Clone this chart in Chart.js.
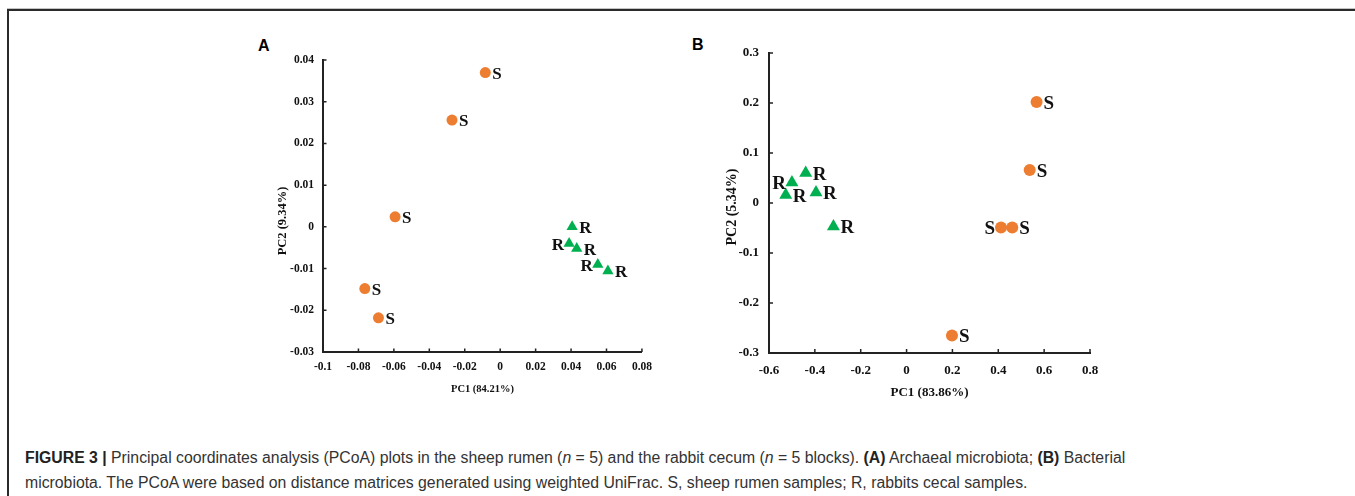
<!DOCTYPE html>
<html>
<head>
<meta charset="utf-8">
<script src="https://cdn.jsdelivr.net/npm/chart.js@4.4.0/dist/chart.umd.min.js"></script>
<style>
html,body{margin:0;padding:0;background:#fff;}
body{width:1355px;height:496px;overflow:hidden;position:relative;}
.fTopLight{position:absolute;left:7px;top:8px;width:1348px;height:1px;background:#c4c4c4;}
.fTop{position:absolute;left:7px;top:9px;width:1348px;height:1.5px;background:#2a2a2a;}
.fLeft{position:absolute;left:7px;top:9px;width:1.5px;height:487px;background:#2a2a2a;}
.box{position:absolute;}
.panel{position:absolute;font-family:"Liberation Sans",Arial,sans-serif;font-weight:bold;font-size:16px;line-height:16px;color:#000;}
.caption{position:absolute;left:25px;top:446px;font-family:"Liberation Sans",Arial,sans-serif;font-size:15.8px;line-height:24.5px;color:#333;white-space:nowrap;}
.caption b{color:#222;}
</style>
</head>
<body>
<div class="fTopLight"></div>
<div class="fTop"></div>
<div class="fLeft"></div>
<div class="panel" style="left:258px;top:38px;">A</div>
<div class="panel" style="left:692px;top:37px;">B</div>
<div class="box" style="left:273px;top:40px;width:387px;height:360px;"><canvas id="cA"></canvas></div>
<div class="box" style="left:722px;top:33px;width:388px;height:371px;"><canvas id="cB"></canvas></div>
<div class="caption" id="cap"><b>FIGURE 3 |</b> Principal coordinates analysis (PCoA) plots in the sheep rumen (<i>n</i> = 5) and the rabbit cecum (<i>n</i> = 5 blocks). <b>(A)</b> Archaeal microbiota; <b>(B)</b> Bacterial<br>microbiota. The PCoA were based on distance matrices generated using weighted UniFrac. S, sheep rumen samples; R, rabbits cecal samples.</div>
<script>
// ---------- data ----------
const ticksAx = [-0.1, -0.08, -0.06, -0.04, -0.02, 0, 0.02, 0.04, 0.06, 0.08];
const ticksAy = [-0.03, -0.02, -0.01, 0, 0.01, 0.02, 0.03, 0.04];
const ticksBx = [-0.6, -0.4, -0.2, 0, 0.2, 0.4, 0.6, 0.8];
const ticksBy = [-0.3, -0.2, -0.1, 0, 0.1, 0.2, 0.3];

const titleAx = "PC1 (84.21%)";
const titleAy = "PC2 (9.34%)";
const titleBx = "PC1 (83.86%)";
const titleBy = "PC2 (5.34%)";

const sheepLabel = "S";
const rabbitLabel = "R";

// Panel A (archaeal)
const sheepA_x  = [-0.0084, -0.0272, -0.0593, -0.0764, -0.0687];
const sheepA_y  = [ 0.0370,  0.0256,  0.0024, -0.0148, -0.0218];
const rabbitA_x = [ 0.0406,  0.0389,  0.0432,  0.0551,  0.0608];
const rabbitA_y = [ 0.0000, -0.0040, -0.0052, -0.0090, -0.0106];
const sheepA_side  = ['r','r','r','r','r'];
const rabbitA_side = ['r','l','r','l','r'];

// Panel B (bacterial)
const sheepB_x  = [ 0.567,  0.537,  0.412,  0.461,  0.198];
const sheepB_y  = [ 0.202,  0.066, -0.049, -0.049, -0.265];
const rabbitB_x = [-0.440, -0.500, -0.527, -0.395, -0.319];
const rabbitB_y = [ 0.060,  0.041,  0.016,  0.021, -0.047];
const sheepB_side  = ['r','r','l','r','r'];
const rabbitB_side = ['r','l','r','r','r'];

// ---------- styles ----------
const ORANGE = '#ED7D31';
const GREEN = '#00B050';
const AXIS = '#222222';
const SERIF = '"Liberation Serif", "Times New Roman", serif';

const pts = (xs, ys) => xs.map((x, i) => ({x: x, y: ys[i]}));
const fmt = v => String(Number(Number(v).toFixed(2)));

const decor = {
  id: 'decor',
  afterDraw(chart, args, o) {
    const ctx = chart.ctx, xs = chart.scales.x, ys = chart.scales.y, a = chart.chartArea;
    ctx.save();
    // inward tick marks
    ctx.strokeStyle = AXIS;
    ctx.lineWidth = 1.5;
    ctx.beginPath();
    xs.ticks.forEach(t => { const p = xs.getPixelForValue(t.value); ctx.moveTo(p, a.bottom); ctx.lineTo(p, a.bottom - o.tickLen); });
    ys.ticks.forEach(t => { const p = ys.getPixelForValue(t.value); ctx.moveTo(a.left, p); ctx.lineTo(a.left + o.tickLen, p); });
    ctx.stroke();
    // y title
    ctx.save();
    ctx.translate(o.yTitleX, (a.top + a.bottom) / 2 + o.yTitleDy);
    ctx.rotate(-Math.PI / 2);
    ctx.font = 'bold ' + o.titleSize + 'px ' + SERIF;
    ctx.fillStyle = '#111';
    ctx.textAlign = 'center';
    ctx.textBaseline = 'middle';
    ctx.fillText(o.yTitle, 0, 0);
    ctx.restore();
    // point labels
    ctx.font = 'bold ' + o.labelSize + 'px ' + SERIF;
    ctx.fillStyle = '#111';
    ctx.textBaseline = 'middle';
    chart.data.datasets.forEach((ds, i) => {
      const meta = chart.getDatasetMeta(i);
      meta.data.forEach((el, j) => {
        const side = ds.sides[j];
        ctx.textAlign = side === 'l' ? 'right' : 'left';
        const dx = side === 'l' ? -o.labelGapL : o.labelGapR;
        ctx.fillText(ds.pointLabel, el.x + dx, el.y + o.labelDy);
      });
    });
    ctx.restore();
  }
};

function makeChart(id, cfg) {
  return new Chart(document.getElementById(id), {
    type: 'scatter',
    data: {
      datasets: [
        { label: 'Sheep', data: pts(cfg.sx, cfg.sy), sides: cfg.sSide, pointLabel: sheepLabel,
          pointStyle: 'circle', pointRadius: cfg.circleR, pointHoverRadius: cfg.circleR,
          backgroundColor: ORANGE, borderColor: ORANGE, borderWidth: 0, clip: false },
        { label: 'Rabbit', data: pts(cfg.rx, cfg.ry), sides: cfg.rSide, pointLabel: rabbitLabel,
          pointStyle: 'triangle', pointRadius: cfg.triR, pointHoverRadius: cfg.triR,
          backgroundColor: GREEN, borderColor: GREEN, borderWidth: 0, clip: false }
      ]
    },
    options: {
      responsive: true,
      maintainAspectRatio: false,
      animation: false,
      events: [],
      layout: { padding: { left: 0, right: cfg.padR, top: 20, bottom: 0 } },
      plugins: {
        legend: { display: false },
        tooltip: { enabled: false },
        decor: cfg.decor
      },
      scales: {
        x: {
          type: 'linear',
          min: cfg.tx[0], max: cfg.tx[cfg.tx.length - 1],
          afterBuildTicks: s => { s.ticks = cfg.tx.map(v => ({value: v})); },
          afterFit: s => { s.height = cfg.xH; },
          grid: { display: false, drawTicks: false },
          border: { display: true, color: AXIS, width: 2 },
          ticks: { callback: v => fmt(v), color: '#111', padding: cfg.xPad, maxRotation: 0, autoSkip: false,
                   font: { family: SERIF, weight: 'bold', size: cfg.tickSize } },
          title: { display: true, text: cfg.xTitle, color: '#111', padding: { top: 2, bottom: 4 },
                   font: { family: SERIF, weight: 'bold', size: cfg.titleSize } }
        },
        y: {
          type: 'linear',
          min: cfg.ty[0], max: cfg.ty[cfg.ty.length - 1],
          afterBuildTicks: s => { s.ticks = cfg.ty.map(v => ({value: v})); },
          afterFit: s => { s.width = cfg.yW; },
          grid: { display: false, drawTicks: false },
          border: { display: true, color: AXIS, width: 2 },
          ticks: { callback: v => fmt(v), color: '#111', padding: cfg.yPad, autoSkip: false,
                   font: { family: SERIF, weight: 'bold', size: cfg.tickSize } },
          title: { display: false }
        }
      }
    },
    plugins: [decor]
  });
}

makeChart('cA', {
  sx: sheepA_x, sy: sheepA_y, rx: rabbitA_x, ry: rabbitA_y, sSide: sheepA_side, rSide: rabbitA_side,
  tx: ticksAx, ty: ticksAy, xTitle: titleAx,
  circleR: 5.5, triR: 6.5, padR: 18, xH: 48, yW: 50, xPad: 8, yPad: 9,
  tickSize: 11.5, titleSize: 10.5,
  decor: { tickLen: 3.5, yTitle: titleAy, yTitleX: 10, yTitleDy: 15, titleSize: 12.5,
           labelSize: 17, labelGapR: 7, labelGapL: 5, labelDy: 2 }
});

makeChart('cB', {
  sx: sheepB_x, sy: sheepB_y, rx: rabbitB_x, ry: rabbitB_y, sSide: sheepB_side, rSide: rabbitB_side,
  tx: ticksBx, ty: ticksBy, xTitle: titleBx,
  circleR: 6, triR: 7.5, padR: 20, xH: 51, yW: 47, xPad: 10, yPad: 10,
  tickSize: 13, titleSize: 13,
  decor: { tickLen: 4, yTitle: titleBy, yTitleX: 10, yTitleDy: 4, titleSize: 14,
           labelSize: 19, labelGapR: 7, labelGapL: 6, labelDy: 2 }
});
</script>
</body>
</html>
